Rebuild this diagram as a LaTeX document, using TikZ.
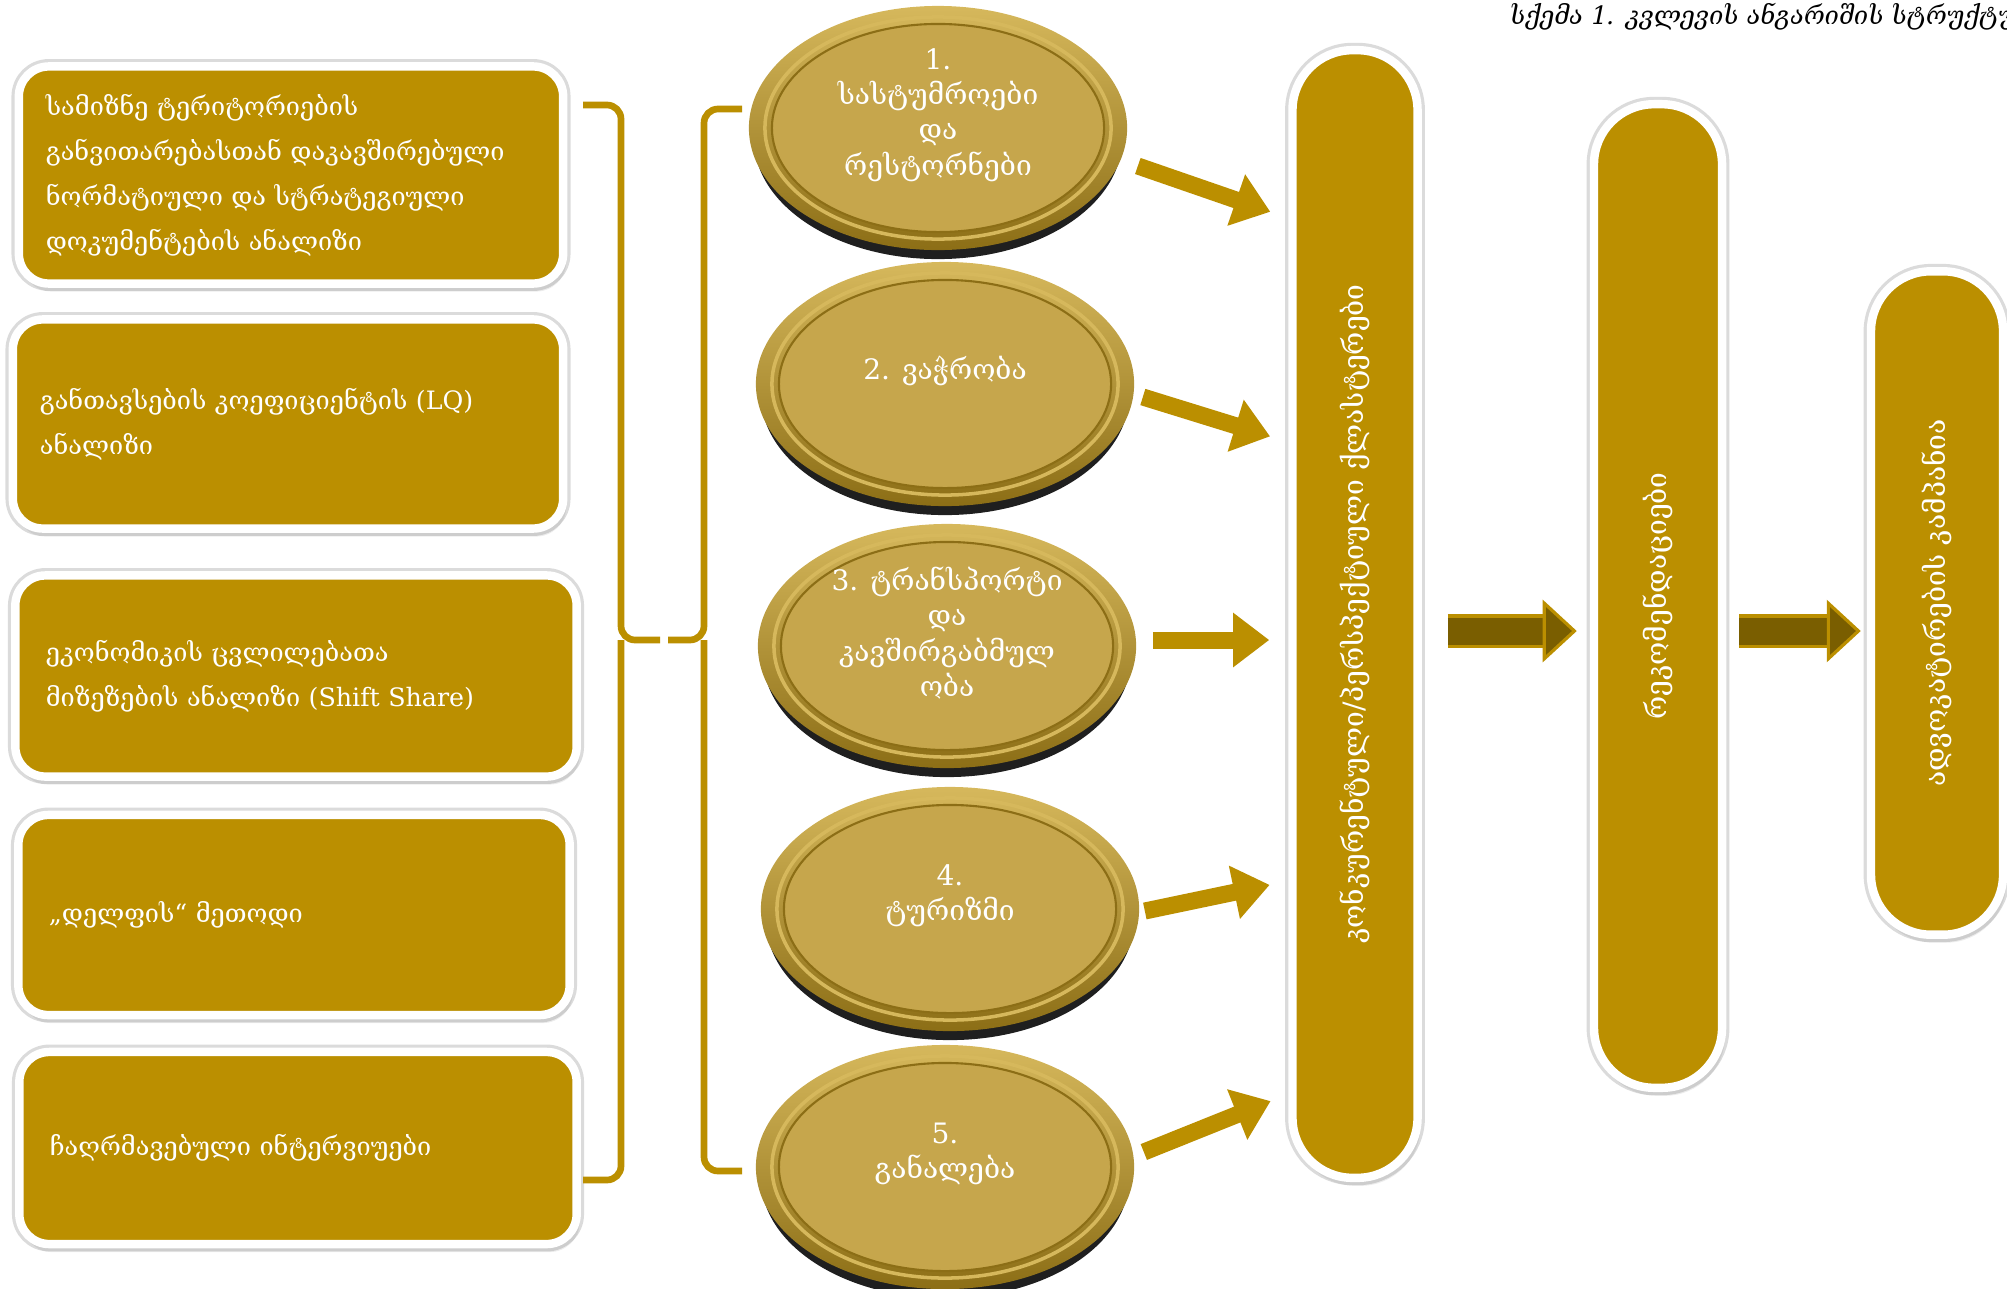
\documentclass[tikz,border=0pt]{standalone}
\usepackage{fontspec}
\setmainfont{DejaVu Serif}
\newfontfamily\geoslant[FakeSlant=0.2]{DejaVu Serif}
\usetikzlibrary{shapes.geometric}
\usetikzlibrary{shadows}
\usetikzlibrary{arrows.meta}

\pgfdeclarelayer{background}
\pgfsetlayers{background,main}

\definecolor{boxgold}{RGB}{187,143,0}
\definecolor{coinface}{RGB}{198,166,76}
\definecolor{coinrim}{RGB}{140,110,22}
\definecolor{coinlight}{RGB}{214,184,92}
\definecolor{arrowbrown}{RGB}{122,94,0}

\tikzset{
  method/.style={rectangle, rounded corners=0.3cm, fill=boxgold, draw=white,
    line width=2.4pt, text=white, align=left, inner sep=0pt,
    font=\fontsize{7.2}{12.8}\selectfont,
    preaction={draw=black!14, line width=4.2pt},
    drop shadow={opacity=0.15, shadow xshift=0.03cm, shadow yshift=-0.08cm}},
  sector/.style={ellipse, minimum width=3.78cm, minimum height=2.44cm,
    inner sep=0pt, align=center, text=white,
    font=\fontsize{8.0}{10}\selectfont},
  stage/.style={rectangle, rounded corners=0.6cm, fill=boxgold, draw=white,
    line width=2.4pt, text=white, inner sep=0pt,
    font=\fontsize{8.0}{10}\selectfont,
    preaction={draw=black!14, line width=4.2pt},
    drop shadow={opacity=0.15, shadow xshift=0.03cm, shadow yshift=-0.08cm}},
  feed/.style={boxgold, line width=0.17cm, shorten >=0.19cm,
    -{Triangle[width=0.52cm, length=0.36cm]}},
  next/.style={draw=boxgold, line width=0.9pt, double=arrowbrown,
    double distance=0.27cm,
    -{Triangle[width=0.62cm, length=0.34cm, fill=arrowbrown]}},
  bracket/.style={boxgold, line width=1.9pt, rounded corners=4pt}
}

\begin{document}
\begin{tikzpicture}[x=0.01cm, y=-0.01cm]

    %\draw [help lines] (0,0) grid (2007,1288);
    \useasboundingbox (0,0) rectangle (2007,1288);

    \node (title) [anchor=west, inner sep=0pt, font=\geoslant\fontsize{7.2}{9}\selectfont]
        at (1508,17) {სქემა 1. კვლევის ანგარიშის სტრუქტურა};

    % methods
    \path   (291,175)  node (m1) [method, minimum width=5.44cm, minimum height=2.17cm, text width=4.9cm]
                {სამიზნე ტერიტორიების\\განვითარებასთან დაკავშირებული\\ნორმატიული და სტრატეგიული\\დოკუმენტების ანალიზი}
            (288,424)  node (m2) [method, minimum width=5.50cm, minimum height=2.09cm, text width=4.96cm]
                {განთავსების კოეფიციენტის (LQ)\\ანალიზი}
            (296,676)  node (m3) [method, minimum width=5.61cm, minimum height=2.01cm, text width=5.0cm]
                {ეკონომიკის ცვლილებათა\\მიზეზების ანალიზი (Shift Share)}
            (294,915)  node (m4) [method, minimum width=5.51cm, minimum height=2.00cm, text width=4.9cm]
                {„დელფის“ მეთოდი}
            (298,1148) node (m5) [method, minimum width=5.57cm, minimum height=1.92cm, text width=4.96cm]
                {ჩაღრმავებული ინტერვიუები};

    % sectors (text sits a little above the coin centre)
    \path   (938,115)  node (c1) [sector] {1.\\სასტუმროები\\და\\რესტორნები}
            (945,371)  node (c2) [sector] {2. ვაჭრობა}
            (947,633)  node (c3) [sector] {3. ტრანსპორტი\\და\\კავშირგაბმულ\\ობა}
            (950,896)  node (c4) [sector] {4.\\ტურიზმი}
            (945,1154) node (c5) [sector] {5.\\განალება};

    % stages
    \path   (1355,614) node (b1) [stage, minimum width=1.25cm, minimum height=11.27cm]
                {\rotatebox{90}{კონკურენტული/პერსპექტიული ქლასტერები}}
            (1658,596) node (b2) [stage, minimum width=1.28cm, minimum height=9.83cm]
                {\rotatebox{90}{რეკომენდაციები}}
            (1937,603) node (b3) [stage, minimum width=1.32cm, minimum height=6.63cm]
                {\rotatebox{90}{ადვოკატირების კამპანია}};

    \begin{pgfonlayer}{background}
        \foreach \c in {c1,c2,c3,c4,c5} {
            \fill[black!88] ([yshift=-0.24cm]\c.center) ellipse (1.84cm and 1.2cm);
            \shade[top color=coinlight, bottom color=coinrim] ([yshift=-0.13cm]\c.center) ellipse (1.89cm and 1.22cm);
            \draw[coinlight, line width=1pt] ([yshift=-0.13cm]\c.center) ellipse (1.73cm and 1.11cm);
            \fill[coinface, draw=coinrim, line width=0.6pt] ([yshift=-0.13cm]\c.center) ellipse (1.66cm and 1.04cm);
        }
    \end{pgfonlayer}

    % brackets
    \draw[bracket] (583,105) -| (621,640) -- (660,640);
    \draw[bracket] (621,640) |- (583,1180);
    \draw[bracket] (742,109) -| (704,640) -- (668,640);
    \draw[bracket] (704,640) |- (742,1171);

    % sectors to clusters
    \draw[feed] ([shift={(10,51)}]c1.east) -- (b1.west |- 0,218);
    \draw[feed] ([shift={(8,26)}]c2.east)  -- (b1.west |- 0,442);
    \draw[feed] ([shift={(16,7)}]c3.east)  -- (b1.west |- 0,640);
    \draw[feed] ([shift={(5,15)}]c4.east)  -- (b1.west |- 0,881);
    \draw[feed] ([shift={(9,-2)}]c5.east)  -- (b1.west |- 0,1094);

    % stage to stage
    \draw[next, shorten <=0.26cm, shorten >=0.13cm] (b1.east |- 0,631) -- (b2.west |- 0,631);
    \draw[next, shorten <=0.13cm, shorten >=0.06cm] (b2.east |- 0,631) -- (b3.west |- 0,631);

\end{tikzpicture}
\end{document}
